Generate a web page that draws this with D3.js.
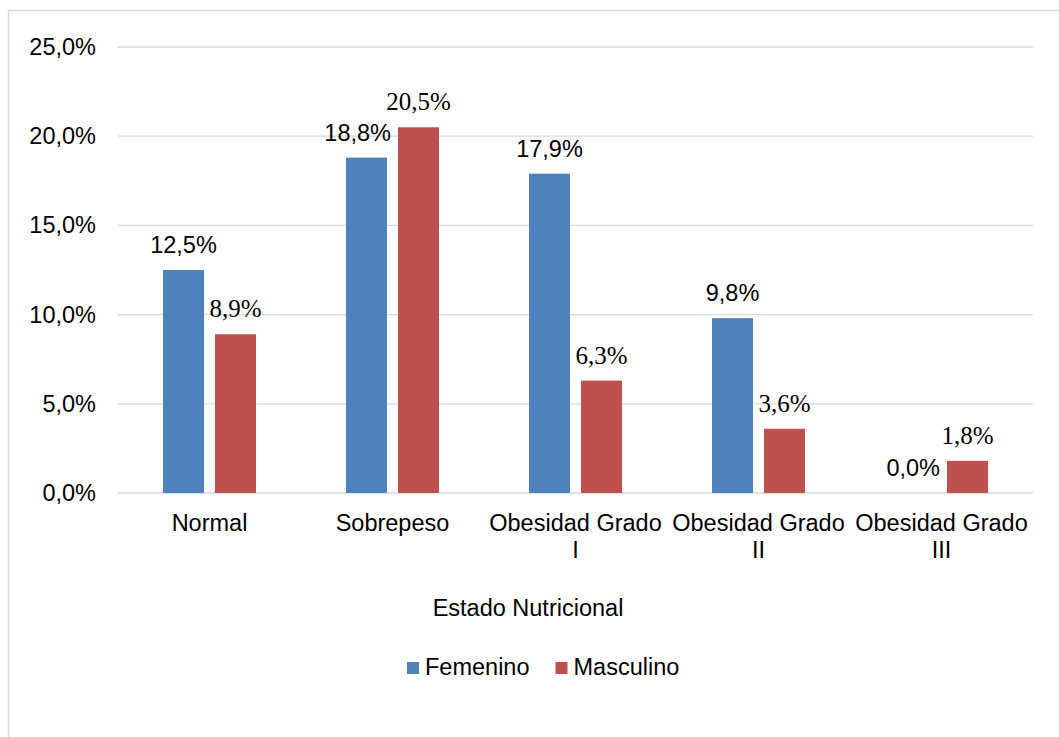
<!DOCTYPE html>
<html>
<head>
<meta charset="utf-8">
<script src="https://cdn.jsdelivr.net/npm/d3@7/dist/d3.min.js"></script>
<style>
  html, body { margin: 0; padding: 0; background: #fff; }
  svg { display: block; }
</style>
</head>
<body>
<svg id="chart" width="1059" height="737"></svg>
<script>
// Nutritional status by sex (percent of total)
const categories = [
  ["Normal"],
  ["Sobrepeso"],
  ["Obesidad Grado", "I"],
  ["Obesidad Grado", "II"],
  ["Obesidad Grado", "III"]
];
const seriesNames = ["Femenino", "Masculino"];
const femenino  = [12.5, 18.8, 17.9, 9.8, 0.0];
const masculino = [8.9, 20.5, 6.3, 3.6, 1.8];
const yTicks = [0, 5, 10, 15, 20, 25];
const colors = ["#4f81bd", "#c0504d"];
const axisTitle = "Estado Nutricional";

const fmt = v => v.toFixed(1).replace(".", ",") + "%";

const svg = d3.select("#chart");
const plot = { left: 118, right: 1033, top: 47, bottom: 493 };

// outer frame (top and left edges visible)
svg.append("rect")
  .attr("x", 8.5).attr("y", 10.5)
  .attr("width", 1200).attr("height", 900)
  .attr("fill", "none").attr("stroke", "#d9d9d9").attr("stroke-width", 1.5);

const keys = categories.map((c, i) => i);
const x0 = d3.scaleBand().domain(keys).range([plot.left, plot.right]).padding(0);
const step = x0.bandwidth();
const x1 = d3.scaleBand().domain(seriesNames)
  .range([step * 0.246, step * 0.754]).paddingInner(0.2115);
const y = d3.scaleLinear().domain([0, 25]).range([plot.bottom, plot.top]);

// horizontal gridlines
svg.append("g").selectAll("line").data(yTicks).join("line")
  .attr("x1", plot.left).attr("x2", plot.right)
  .attr("y1", d => y(d)).attr("y2", d => y(d))
  .attr("stroke", "#d9d9d9").attr("stroke-width", 1.3);

// y tick labels
svg.append("g").selectAll("text").data(yTicks).join("text")
  .attr("x", 96).attr("y", d => y(d) + 8)
  .attr("text-anchor", "end")
  .attr("font-family", "Liberation Sans, Arial, sans-serif")
  .attr("font-size", 23.5).attr("fill", "#000")
  .text(d => fmt(d));

const series = [femenino, masculino];
const rows = keys.map(i => seriesNames.map((s, j) => ({ cat: i, s, j, v: series[j][i] })));

// bars
const groups = svg.append("g").selectAll("g").data(rows).join("g")
  .attr("transform", (d, i) => `translate(${x0(i)},0)`);
groups.selectAll("rect").data(d => d).join("rect")
  .attr("x", d => x1(d.s)).attr("width", x1.bandwidth())
  .attr("y", d => y(d.v)).attr("height", d => y(0) - y(d.v))
  .attr("fill", d => colors[d.j]);

// value labels
groups.each(function (row) {
  const g = d3.select(this);
  const red = row[1], blue = row[0];
  g.append("text")
    .attr("x", x1(red.s) + x1.bandwidth() / 2)
    .attr("y", y(red.v) - 17)
    .attr("text-anchor", "middle")
    .attr("font-family", "Liberation Serif, 'Times New Roman', serif")
    .attr("font-size", 25).attr("fill", "#000")
    .text(fmt(red.v));
  const bText = g.append("text")
    .attr("y", y(blue.v) - 17)
    .attr("text-anchor", "middle")
    .attr("font-family", "Liberation Sans, Arial, sans-serif")
    .attr("font-size", 23.5).attr("fill", "#000")
    .text(fmt(blue.v));
  let cx = x1(blue.s) + x1.bandwidth() / 2;
  const w = bText.node().getComputedTextLength();
  const redLeft = x1(red.s);
  // keep the label clear of a taller neighbouring bar
  if (red.v > blue.v && y(red.v) < y(blue.v) - 5 && cx + w / 2 > redLeft - 7) {
    cx = redLeft - 7 - w / 2;
  }
  bText.attr("x", cx);
});

// category labels
const catG = svg.append("g").selectAll("text").data(categories).join("text")
  .attr("x", (d, i) => x0(i) + step / 2)
  .attr("y", 531)
  .attr("text-anchor", "middle")
  .attr("font-family", "Liberation Sans, Arial, sans-serif")
  .attr("font-size", 23.5).attr("fill", "#000");
catG.selectAll("tspan").data(d => d).join("tspan")
  .attr("x", function () { return d3.select(this.parentNode).attr("x"); })
  .attr("dy", (d, k) => k === 0 ? 0 : 27)
  .text(d => d);

// axis title
svg.append("text")
  .attr("x", 528).attr("y", 616)
  .attr("text-anchor", "middle")
  .attr("font-family", "Liberation Sans, Arial, sans-serif")
  .attr("font-size", 23.5).attr("fill", "#000")
  .text(axisTitle);

// legend
const legendX = [407, 555.5];
const leg = svg.append("g").selectAll("g").data(seriesNames).join("g")
  .attr("transform", (d, i) => `translate(${legendX[i]},0)`);
leg.append("rect").attr("x", 0).attr("y", 662).attr("width", 12).attr("height", 12)
  .attr("fill", (d, i) => colors[i]);
leg.append("text").attr("x", 18).attr("y", 675)
  .attr("font-family", "Liberation Sans, Arial, sans-serif")
  .attr("font-size", 23.5).attr("fill", "#000")
  .text(d => d);
</script>
</body>
</html>
